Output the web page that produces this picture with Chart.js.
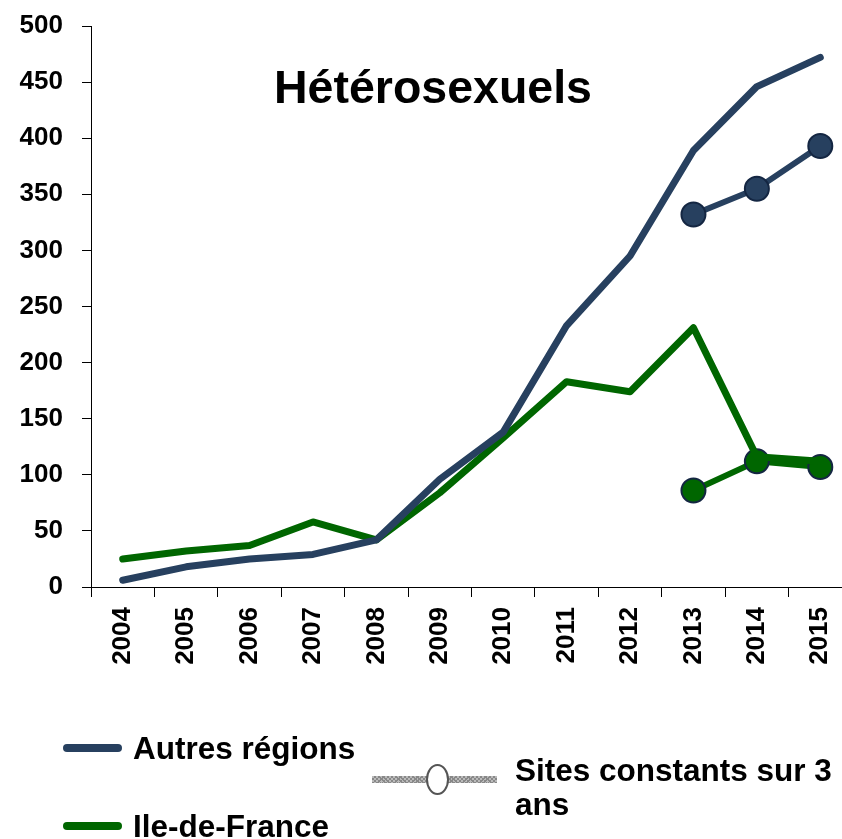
<!DOCTYPE html>
<html>
<head>
<meta charset="utf-8">
<script src="https://cdn.jsdelivr.net/npm/chart.js@4.4.0/dist/chart.umd.min.js"></script>
<style>
  html, body { margin: 0; padding: 0; background: #fff; overflow: hidden; width: 842px; height: 839px; }
  #wrap { position: absolute; left: 0; top: 0; width: 866px; height: 839px; }
  .txt { position: absolute; font-family: "Liberation Sans", Arial, sans-serif; font-weight: bold; color: #000; white-space: nowrap; line-height: 1; }
  #title { font-size: 46.5px; left: 433px; top: 64px; transform: translateX(-50%); }
  .leg { font-size: 31.5px; }
  .sw { position: absolute; height: 8px; border-radius: 4px; }
  #sitesLine { position: absolute; left: 372px; top: 776px; width: 125px; height: 7px;
    background-color: #bbb;
    background-image: repeating-linear-gradient(45deg, #888 0 1px, transparent 1px 3px), repeating-linear-gradient(-45deg, #888 0 1px, transparent 1px 3px); }
  #sitesDot { position: absolute; left: 426px; top: 764px; width: 19px; height: 27px; border: 2px solid #555; border-radius: 50%; background: #fff; }
</style>
</head>
<body>
<div id="wrap"><canvas id="c" width="866" height="839"></canvas></div>
<div id="title" class="txt">Hétérosexuels</div>
<div class="sw" style="left:63px; top:744px; width:59px; background:#27405f;"></div>
<div class="txt leg" style="left:133px; top:733px;">Autres régions</div>
<div class="sw" style="left:63px; top:822px; width:59px; background:#006600;"></div>
<div class="txt leg" style="left:133px; top:811px;">Ile-de-France</div>
<div id="sitesLine"></div>
<div id="sitesDot"></div>
<div class="txt leg" style="left:515px; top:755px;">Sites constants sur 3</div>
<div class="txt leg" style="left:515px; top:789px;">ans</div>
<script>
const years = ["2004","2005","2006","2007","2008","2009","2010","2011","2012","2013","2014","2015"];
const autresRegions = [6, 18, 25, 29, 42, 96, 138, 233, 295, 389, 446, 472];
const ileDeFrance = [25, 32, 37, 58, 42, 84, 133, 183, 174, 231, 116, 112];
const autresSitesConstants = [null, null, null, null, null, null, null, null, null, 332, 355, 393];
const idfSitesConstants = [null, null, null, null, null, null, null, null, null, 86, 112, 107];
const yTicks = [0, 50, 100, 150, 200, 250, 300, 350, 400, 450, 500];

const NAVY = '#27405f';
const GREEN = '#006600';
const MARK_BORDER = '#142642';

new Chart(document.getElementById('c'), {
  type: 'line',
  data: {
    labels: years,
    datasets: [
      { label: 'Autres régions', data: autresRegions, borderColor: NAVY, borderWidth: 7, pointRadius: 0, borderCapStyle: 'round', borderJoinStyle: 'round', tension: 0 },
      { label: 'Ile-de-France', data: ileDeFrance, borderColor: GREEN, borderWidth: 7, pointRadius: 0, borderCapStyle: 'round', borderJoinStyle: 'round', tension: 0 },
      { label: 'Autres régions (sites constants)', data: autresSitesConstants, borderColor: NAVY, borderWidth: 6, pointRadius: 12, pointBackgroundColor: NAVY, pointBorderColor: MARK_BORDER, pointBorderWidth: 2, spanGaps: false, tension: 0 },
      { label: 'Ile-de-France (sites constants)', data: idfSitesConstants, borderColor: GREEN, borderWidth: 6, pointRadius: 12, pointBackgroundColor: GREEN, pointBorderColor: MARK_BORDER, pointBorderWidth: 2, spanGaps: false, tension: 0 }
    ]
  },
  options: {
    responsive: false,
    animation: false,
    layout: { padding: { left: 0, right: 0, top: 26, bottom: 152 } },
    plugins: { legend: { display: false }, tooltip: { enabled: false }, title: { display: false } },
    scales: {
      x: {
        type: 'category',
        offset: true,
        grid: { offset: true, drawOnChartArea: false, drawTicks: true, tickLength: 10, color: '#000', lineWidth: 1 },
        border: { display: true, color: '#000', width: 1 },
        ticks: { color: '#000', font: { family: 'Liberation Sans, Arial, sans-serif', size: 26, weight: 'bold' }, maxRotation: 90, minRotation: 90, padding: 10, autoSkip: false },
        afterFit: (s) => { s.height = 100; s.paddingLeft = 0; s.paddingRight = 0; }
      },
      y: {
        min: 0, max: 500,
        afterBuildTicks: (s) => { s.ticks = yTicks.map(v => ({ value: v })); },
        grid: { drawOnChartArea: false, drawTicks: true, tickLength: 9, color: '#000', lineWidth: 1 },
        border: { display: true, color: '#000', width: 1 },
        ticks: { color: '#000', font: { family: 'Liberation Sans, Arial, sans-serif', size: 26, weight: 'bold' }, padding: 19 },
        afterFit: (s) => { s.width = 91; s.paddingTop = 0; s.paddingBottom = 0; }
      }
    }
  }
});
</script>
</body>
</html>
